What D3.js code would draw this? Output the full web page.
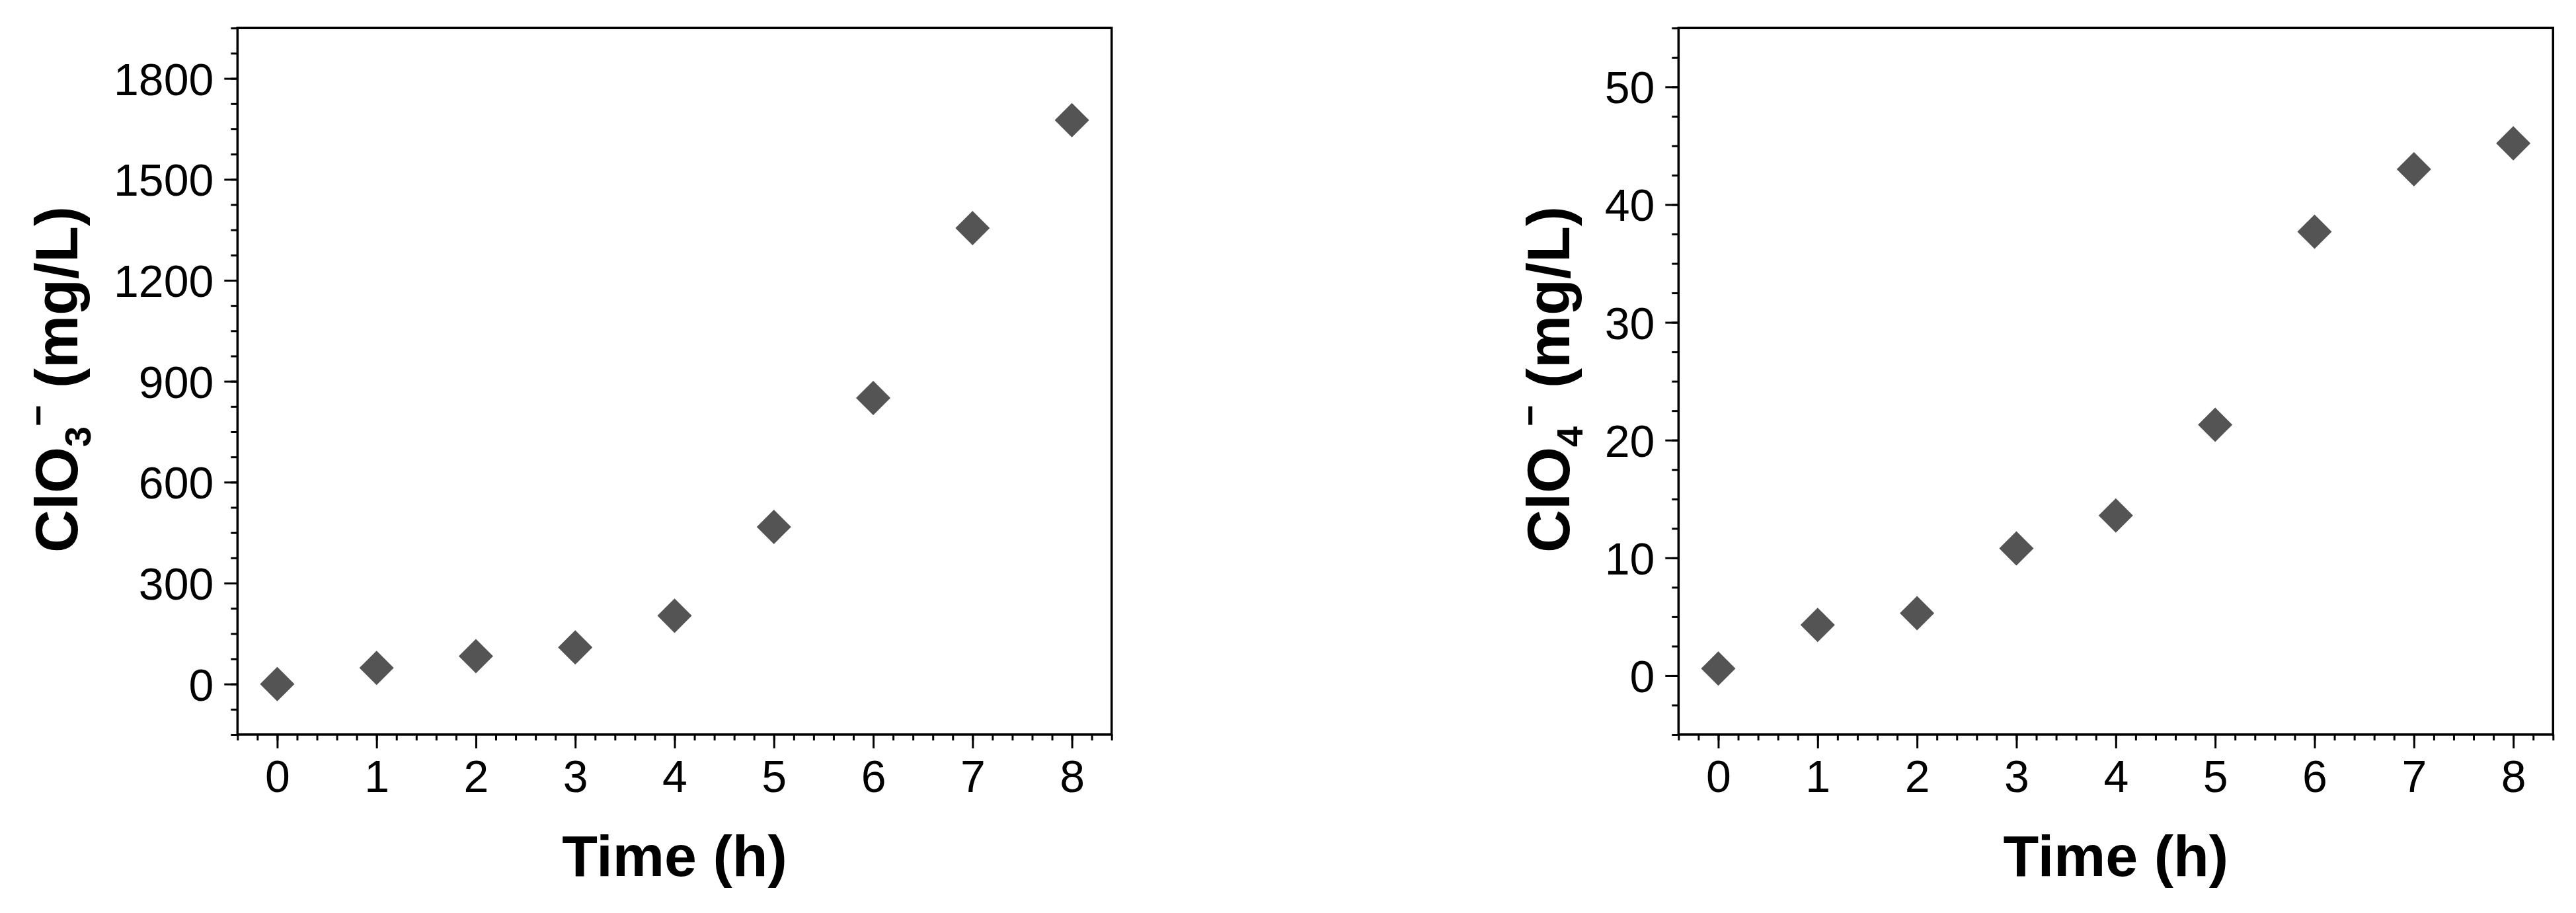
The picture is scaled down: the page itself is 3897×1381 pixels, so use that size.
<!DOCTYPE html>
<html>
<head>
<meta charset="utf-8">
<script src="https://cdn.jsdelivr.net/npm/d3@7"></script>
<style>
body { margin: 0; background: #fff; }
text { font-family: "Liberation Sans", Arial, sans-serif; fill: #000; }
</style>
</head>
<body>
<svg id="chart" width="3897" height="1381"></svg>
<script>
// data
const hours = [0, 1, 2, 3, 4, 5, 6, 7, 8];
const chlorate = [0, 48, 83, 109, 203, 467, 850, 1355, 1676];
const perchlorate = [0.6, 4.3, 5.3, 10.8, 13.6, 21.3, 37.7, 43.0, 45.2];
const hourTicks = [0, 1, 2, 3, 4, 5, 6, 7, 8];
const chlorateTicks = [0, 300, 600, 900, 1200, 1500, 1800];
const perchlorateTicks = [0, 10, 20, 30, 40, 50];

const svg = d3.select("#chart");
svg.append("rect").attr("width", 3897).attr("height", 1381).attr("fill", "#fff");

drawPanel({
	left: 359.3, right: 1681.7, top: 42.3, bottom: 1111,
	yDomain: [-150, 1950], yMinor: 75, yTicks: chlorateTicks,
	values: chlorate, ion: "3", labelX: 117
});
drawPanel({
	left: 2539.3, right: 3862.3, top: 42.3, bottom: 1111,
	yDomain: [-5, 55], yMinor: 2.5, yTicks: perchlorateTicks,
	values: perchlorate, ion: "4", labelX: 2374
});

function drawPanel(p){
	let g = svg.append("g"),
		xDomain = [-0.4, 8.4],
		x = d3.scaleLinear().domain(xDomain).range([p.left, p.right]),
		y = d3.scaleLinear().domain(p.yDomain).range([p.bottom, p.top]),
		xMinor = d3.range(0, 45).map(i => xDomain[0] + i * 0.2),
		yCount = Math.round((p.yDomain[1] - p.yDomain[0]) / p.yMinor),
		yMinor = d3.range(0, yCount + 1).map(i => p.yDomain[0] + i * p.yMinor);

	// minor ticks
	g.append("g")
		.attr("transform", `translate(0,${p.bottom})`)
		.call(d3.axisBottom(x).tickValues(xMinor).tickSize(9).tickFormat(""))
		.call(styleAxis);
	g.append("g")
		.attr("transform", `translate(${p.left},0)`)
		.call(d3.axisLeft(y).tickValues(yMinor).tickSize(10).tickFormat(""))
		.call(styleAxis);

	// major ticks + labels
	g.append("g")
		.attr("transform", `translate(0,${p.bottom})`)
		.call(d3.axisBottom(x).tickValues(hourTicks).tickSizeInner(21).tickSizeOuter(0)
			.tickPadding(18).tickFormat(d3.format("d")))
		.call(styleAxis);
	g.append("g")
		.attr("transform", `translate(${p.left},0)`)
		.call(d3.axisLeft(y).tickValues(p.yTicks).tickSizeInner(20).tickSizeOuter(0)
			.tickPadding(16).tickFormat(d3.format("d")))
		.call(styleAxis)
		.selectAll("text").attr("dy", "0.36em");

	// frame
	g.append("rect")
		.attr("x", p.left).attr("y", p.top)
		.attr("width", p.right - p.left).attr("height", p.bottom - p.top)
		.attr("fill", "none").attr("stroke", "#000").attr("stroke-width", 3.5);

	// diamonds
	g.selectAll("path.pt")
		.data(hours)
		.join("path")
		.attr("class", "pt")
		.attr("d", d3.symbol(d3.symbolSquare, 1354))
		.attr("transform", (d, i) => `translate(${x(d)},${y(p.values[i])}) rotate(45)`)
		.attr("fill", "#545454");

	// axis titles
	g.append("text")
		.attr("x", (p.left + p.right) / 2)
		.attr("y", 1325)
		.attr("text-anchor", "middle")
		.attr("font-size", 88)
		.attr("font-weight", "bold")
		.text("Time (h)");

	let yl = g.append("text")
		.attr("transform", `translate(${p.labelX},574) rotate(-90)`)
		.attr("text-anchor", "middle")
		.attr("font-size", 90)
		.attr("font-weight", "bold");
	yl.append("tspan").text("ClO");
	yl.append("tspan").attr("font-size", 56).attr("dy", 20).text(p.ion);
	yl.append("tspan").attr("font-size", 56).attr("dy", -60).text("\u2212");
	yl.append("tspan").attr("dy", 40).text(" (mg/L)");
}

function styleAxis(sel){
	sel.attr("font-family", null).attr("font-size", null);
	sel.select(".domain").remove();
	sel.selectAll(".tick line").attr("stroke", "#000").attr("stroke-width", 3);
	sel.selectAll(".tick text").attr("font-size", 68).attr("fill", "#000");
}
</script>
</body>
</html>
